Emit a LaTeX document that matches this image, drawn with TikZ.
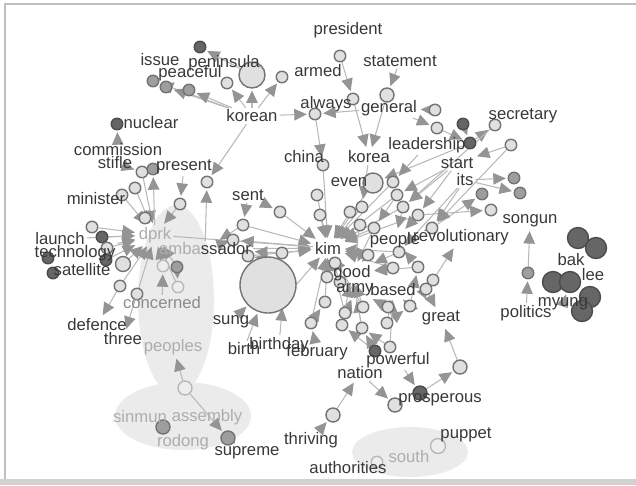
\documentclass[tikz,border=0pt]{standalone}
\usepackage{fontspec}
\setmainfont{Liberation Sans}
\usetikzlibrary{arrows.meta}

\pgfdeclarelayer{bg}
\pgfdeclarelayer{edges}
\pgfsetlayers{bg,edges,main}

\begin{document}
\begin{tikzpicture}[x=0.02cm, y=-0.02cm,
    dot/.style = {circle, draw=black!55, line width=0.8pt, fill=black!12, minimum size=0.23cm, inner sep=0pt},
    mid/.style = {dot, fill=black!38},
    dark/.style = {dot, fill=black!60, draw=black!70},
    ghost/.style = {dot, fill=black!7, draw=black!28},
    word/.style = {inner sep=1pt, text=black!78, font=\fontsize{9.5}{10}\selectfont},
    pale/.style = {word, text=black!32},
    arr/.style = {draw=black!28, line width=0.6pt, shorten >=1pt,
                  -{Triangle[length=2.5mm, width=2.3mm, color=black!42]}}]
\useasboundingbox (0,0) rectangle (636,485);

% frame
\draw[black!25, line width=1.2pt] (5,480) -- (5,4) -- (636,4);
\fill[black!18] (0,479) rectangle (636,485);

% shaded groups
\begin{pgfonlayer}{bg}
    \fill[black!8] (176,300) ellipse [x radius=0.76cm, y radius=1.9cm];
    \fill[black!8] (183,416) ellipse [x radius=1.36cm, y radius=0.68cm];
    \fill[black!8] (410,452) ellipse [x radius=1.16cm, y radius=0.5cm];
\end{pgfonlayer}

% circles, top
\node[dark] (t1) at (200,47) {};
\node[mid] (t2) at (153,81) {};
\node[mid] (t3) at (166,87) {};
\node[mid] (t4) at (189,90) {};
\node[dot, minimum size=0.52cm] (pen) at (252,75) {};
\node[dot] (t5) at (227,83) {};
\node[dot] (arm) at (282,77) {};
\node[dot] (pre) at (340,56) {};
\node[dot] (alw) at (353,99) {};
\node[dot] (t6) at (315,114) {};
\node[dot, minimum size=0.28cm] (sta) at (387,95) {};
\node[dot] (t7) at (435,110) {};
\node[dot] (t8) at (437,128) {};
\node[dark] (t9) at (463,124) {};
\node[dot] (sec) at (495,125) {};
\node[dark] (lea) at (470,143) {};
\node[dot] (t10) at (511,145) {};
\node[dark] (nuc) at (117,124) {};

% circles, right
\node[mid] (r1) at (514,178) {};
\node[mid] (r2) at (520,193) {};
\node[mid] (r3) at (482,194) {};
\node[dot] (r4) at (491,210) {};
\node[mid] (son) at (528,273) {};
\node[dark, minimum size=0.42cm] (k1) at (578,238) {};
\node[dark, minimum size=0.42cm] (k2) at (596,248) {};
\node[dark, minimum size=0.42cm] (k3) at (553,282) {};
\node[dark, minimum size=0.42cm] (k4) at (570,282) {};
\node[dark, minimum size=0.42cm] (k5) at (590,297) {};
\node[dark, minimum size=0.42cm] (k6) at (582,311) {};

% circles, left
\node[dot] (l1) at (142,172) {};
\node[mid] (l2) at (153,169) {};
\node[dot] (l3) at (135,188) {};
\node[dot] (l4) at (122,195) {};
\node[dot] (pres) at (207,182) {};
\node[dot] (l5) at (180,204) {};
\node[dot] (l6) at (145,218) {};
\node[dot] (l7) at (92,227) {};
\node[dark] (l8) at (102,237) {};
\node[dot] (l9) at (107,248) {};
\node[dark] (l10) at (106,260) {};
\node[dark] (l11) at (48,258) {};
\node[dark] (l12) at (53,273) {};
\node[dot, minimum size=0.3cm] (l13) at (123,264) {};
\node[ghost] (l14) at (163,266) {};
\node[mid] (l15) at (177,267) {};
\node[ghost] (l16) at (178,287) {};
\node[dot] (l17) at (120,286) {};
\node[dot] (l18) at (137,294) {};

% circles, middle
\node[dot] (h1) at (243,225) {};
\node[dot] (snt) at (280,212) {};
\node[dot] (h2) at (233,240) {};
\node[dot] (h3) at (248,256) {};
\node[dot] (h4) at (282,253) {};
\node[dot] (chi) at (323,165) {};
\node[dot, minimum size=0.4cm] (evn) at (373,183) {};
\node[dot] (h5) at (393,182) {};
\node[dot] (h6) at (317,195) {};
\node[dot] (h7) at (320,215) {};
\node[dot] (h8) at (350,212) {};
\node[dot] (h9) at (362,207) {};
\node[dot] (h10) at (397,195) {};
\node[dot] (h11) at (403,207) {};
\node[dot] (h12) at (418,215) {};
\node[dot] (h13) at (360,225) {};
\node[dot] (h14) at (374,228) {};
\node[dot] (h16) at (432,228) {};
\node[dot] (h17) at (335,263) {};
\node[dot] (h18) at (327,277) {};
\node[dot] (h19) at (340,282) {};
\node[dot] (h20) at (368,255) {};
\node[dot] (h21) at (399,252) {};
\node[dot] (h22) at (393,268) {};
\node[dot] (h23) at (418,267) {};
\node[dot] (h24) at (433,280) {};
\node[dot] (h25) at (426,289) {};
\node[dot] (h26) at (410,306) {};
\node[dot] (h27) at (388,307) {};
\node[dot] (h28) at (363,307) {};
\node[dot] (h29) at (345,313) {};
\node[dot] (h30) at (325,302) {};
\node[dot] (h31) at (311,323) {};
\node[dot] (h32) at (342,325) {};
\node[dot] (h33) at (362,328) {};
\node[dot] (h34) at (387,323) {};
\node[dot] (h35) at (283,300) {};
\node[dot, minimum size=1.12cm] (sun) at (268,285) {};

% circles, bottom
\node[dark] (pow) at (375,351) {};
\node[dot] (h36) at (390,347) {};
\node[dot, minimum size=0.28cm] (h37) at (460,367) {};
\node[dark, minimum size=0.28cm] (pro) at (420,393) {};
\node[dot, minimum size=0.28cm] (h38) at (395,405) {};
\node[dot, minimum size=0.28cm] (thr) at (333,415) {};
\node[ghost, minimum size=0.3cm] (pup) at (438,446) {};
\node[ghost] (aut) at (377,462) {};
\node[ghost, minimum size=0.28cm] (b1) at (185,388) {};
\node[mid, minimum size=0.28cm] (rod) at (163,427) {};
\node[mid, minimum size=0.28cm] (sup) at (228,438) {};

% words
\node[word] (president) at (348,30) {president};
\node[word] (statement) at (400,61) {statement};
\node[word] (armed) at (318,71) {armed};
\node[word] (always) at (326,104) {always};
\node[word] (general) at (389,108) {general};
\node[word] (korean) at (252,116) {korean};
\node[word] (issue) at (160,60) {issue};
\node[word] (peninsula) at (224,63) {peninsula};
\node[word] (peaceful) at (190,73) {peaceful};
\node[word] (nuclear) at (151,123) {nuclear};
\node[word] (secretary) at (523,116) {secretary};
\node[word] (leadership) at (427,145) {leadership};
\node[word] (commission) at (118,150) {commission};
\node[word] (stifle) at (115,163) {stifle};
\node[word] (present) at (184,167) {present};
\node[word] (china) at (304,157) {china};
\node[word] (korea) at (369,157) {korea};
\node[word] (start) at (457,163) {start};
\node[word] (even) at (349,182) {even};
\node[word] (its) at (465,180) {its};
\node[word] (minister) at (96,199) {minister};
\node[word] (sent) at (248,195) {sent};
\node[word] (songun) at (530,221) {songun};
\node[pale] (dprk) at (155,235) {dprk};
\node[word] (ambassador) at (205,249) {\textcolor{black!32}{amba}ssador};
\node[word] (launch) at (60,239) {launch};
\node[word] (technology) at (75,253) {technology};
\node[word] (satellite) at (82,270) {satellite};
\node[word] (kim) at (328,248) {kim};
\node[word] (people) at (395,240) {people};
\node[word] (revolutionary) at (461,237) {revolutionary};
\node[word] (good) at (352,273) {good};
\node[word] (army) at (355,290) {army};
\node[word] (based) at (393,290) {based};
\node[word] (great) at (441,318) {great};
\node[word] (sung) at (231,322) {sung};
\node[word] (birth) at (244,349) {birth};
\node[word] (birthday) at (279,345) {birthday};
\node[word] (february) at (317,352) {february};
\node[word, text=black!45] (concerned) at (162,303) {concerned};
\node[word] (defence) at (97,325) {defence};
\node[word] (three) at (123,339) {three};
\node[pale] (peoples) at (173,347) {peoples};
\node[word] (politics) at (526,313) {politics};
\node[word] (myung) at (563,304) {myung};
\node[word] (bak) at (571,260) {bak};
\node[word] (lee) at (593,275) {lee};
\node[word] (powerful) at (398,360) {powerful};
\node[word] (nation) at (360,373) {nation};
\node[word] (prosperous) at (440,400) {prosperous};
\node[word] (thriving) at (311,440) {thriving};
\node[word] (puppet) at (466,435) {puppet};
\node[pale] (south) at (409,457) {south};
\node[word] (authorities) at (348,468) {authorities};
\node[pale] (sinmun) at (140,417) {sinmun};
\node[pale] (assembly) at (207,417) {assembly};
\node[pale] (rodong) at (183,442) {rodong};
\node[word] (supreme) at (247,453) {supreme};

% connectors
\begin{pgfonlayer}{edges}
\path[arr]
    % top
    (korean) edge (t5) (korean) edge (pen) (korean) edge (arm)
    (korean) edge (t2) (korean) edge (t3) (korean) edge (t4)
    (pen) edge (t1) (korean) edge (t6) (korean) edge (pres)
    (pre) edge (alw) (alw) edge (korea) (sta) edge (korea)
    (statement) edge (sta) (t7) edge (general) (general) edge (t6)
    (general) edge (t8) (t8) edge (lea) (t9) edge (lea) (lea) edge (sec)
    (t10) edge (start) (t6) edge (chi) (lea) edge (evn)
    (commission) edge (nuc)
    % right
    (its) edge (r1) (its) edge (r2) (h16) edge (r3) (h12) edge (r4)
    (start) edge (h10) (start) edge (h11) (its) edge (h16)
    (start) edge (h12) (leadership) edge (h5) (its) edge (h21)
    (t10) edge (h16) (sec) edge (h11)
    (politics) edge (son) (son) edge (songun) (myung) edge (k4)
    % left
    (l3) edge (dprk) (l4) edge (dprk) (l5) edge (dprk) (l6) edge (dprk)
    (l7) edge (dprk) (l9) edge (dprk) (l13) edge (dprk) (l15) edge (dprk)
    (l17) edge (dprk) (l18) edge (dprk) (technology) edge (dprk)
    (launch) edge (dprk) (l8) edge (dprk) (l10) edge (dprk)
    (l14) edge (dprk) (l16) edge (dprk) (l1) edge (dprk)
    (stifle) edge (l1) (dprk) edge (l2) (present) edge (l5)
    (ambassador) edge (pres) (concerned) edge (l14) (l15) edge (l16)
    (l17) edge (defence) (l18) edge (three)
    % kim
    (h1) edge (kim) (snt) edge (kim) (h3) edge (kim) (h4) edge (kim)
    (h6) edge (kim) (h7) edge (kim) (h8) edge (kim) (h9) edge (kim)
    (h13) edge (kim) (h17) edge (kim) (h18) edge (kim) (h19) edge (kim)
    (h20) edge (kim) (chi) edge (kim) (ambassador) edge (kim)
    (h14) edge (kim) (h21) edge (kim) (h30) edge (kim) (evn) edge (kim)
    (h5) edge (kim) (korea) edge (h9) (h35) edge (kim) (dprk) edge (kim)
    (h10) edge (kim) (h11) edge (kim) (h22) edge (kim) (h28) edge (kim)
    (h29) edge (kim) (h31) edge (kim) (h12) edge (kim)
    (sent) edge (h1) (sent) edge (snt) (kim) edge (h2) (h2) edge (ambassador)
    (h1) edge (ambassador) (h3) edge (ambassador) (h4) edge (ambassador)
    % hub
    (h10) edge (h14) (h11) edge (people) (h12) edge (people)
    (h23) edge (people) (h22) edge (good) (h24) edge (revolutionary)
    (h26) edge (based) (h27) edge (based) (h28) edge (good)
    (h29) edge (army) (h31) edge (h30) (h32) edge (army) (h33) edge (army)
    (h34) edge (based) (h36) edge (h33) (pow) edge (h32)
    (h25) edge (great) (h24) edge (h25)
    (h13) edge (good) (h14) edge (good) (h20) edge (good) (h21) edge (good)
    (h16) edge (people) (h23) edge (good) (h26) edge (great)
    (h32) edge (good) (h33) edge (good) (h27) edge (army) (h34) edge (h26)
    (h36) edge (based) (pow) edge (h33) (h26) edge (h23)
    % bottom
    (sung) edge (sun) (birth) edge (sun) (birthday) edge (h35)
    (february) edge (h31) (thriving) edge (thr) (thr) edge (nation)
    (nation) edge (h38) (powerful) edge (pro) (pro) edge (h37)
    (h37) edge (great) (b1) edge (peoples) (b1) edge (sup)
    (sup) edge (supreme);
\end{pgfonlayer}
\end{tikzpicture}
\end{document}
